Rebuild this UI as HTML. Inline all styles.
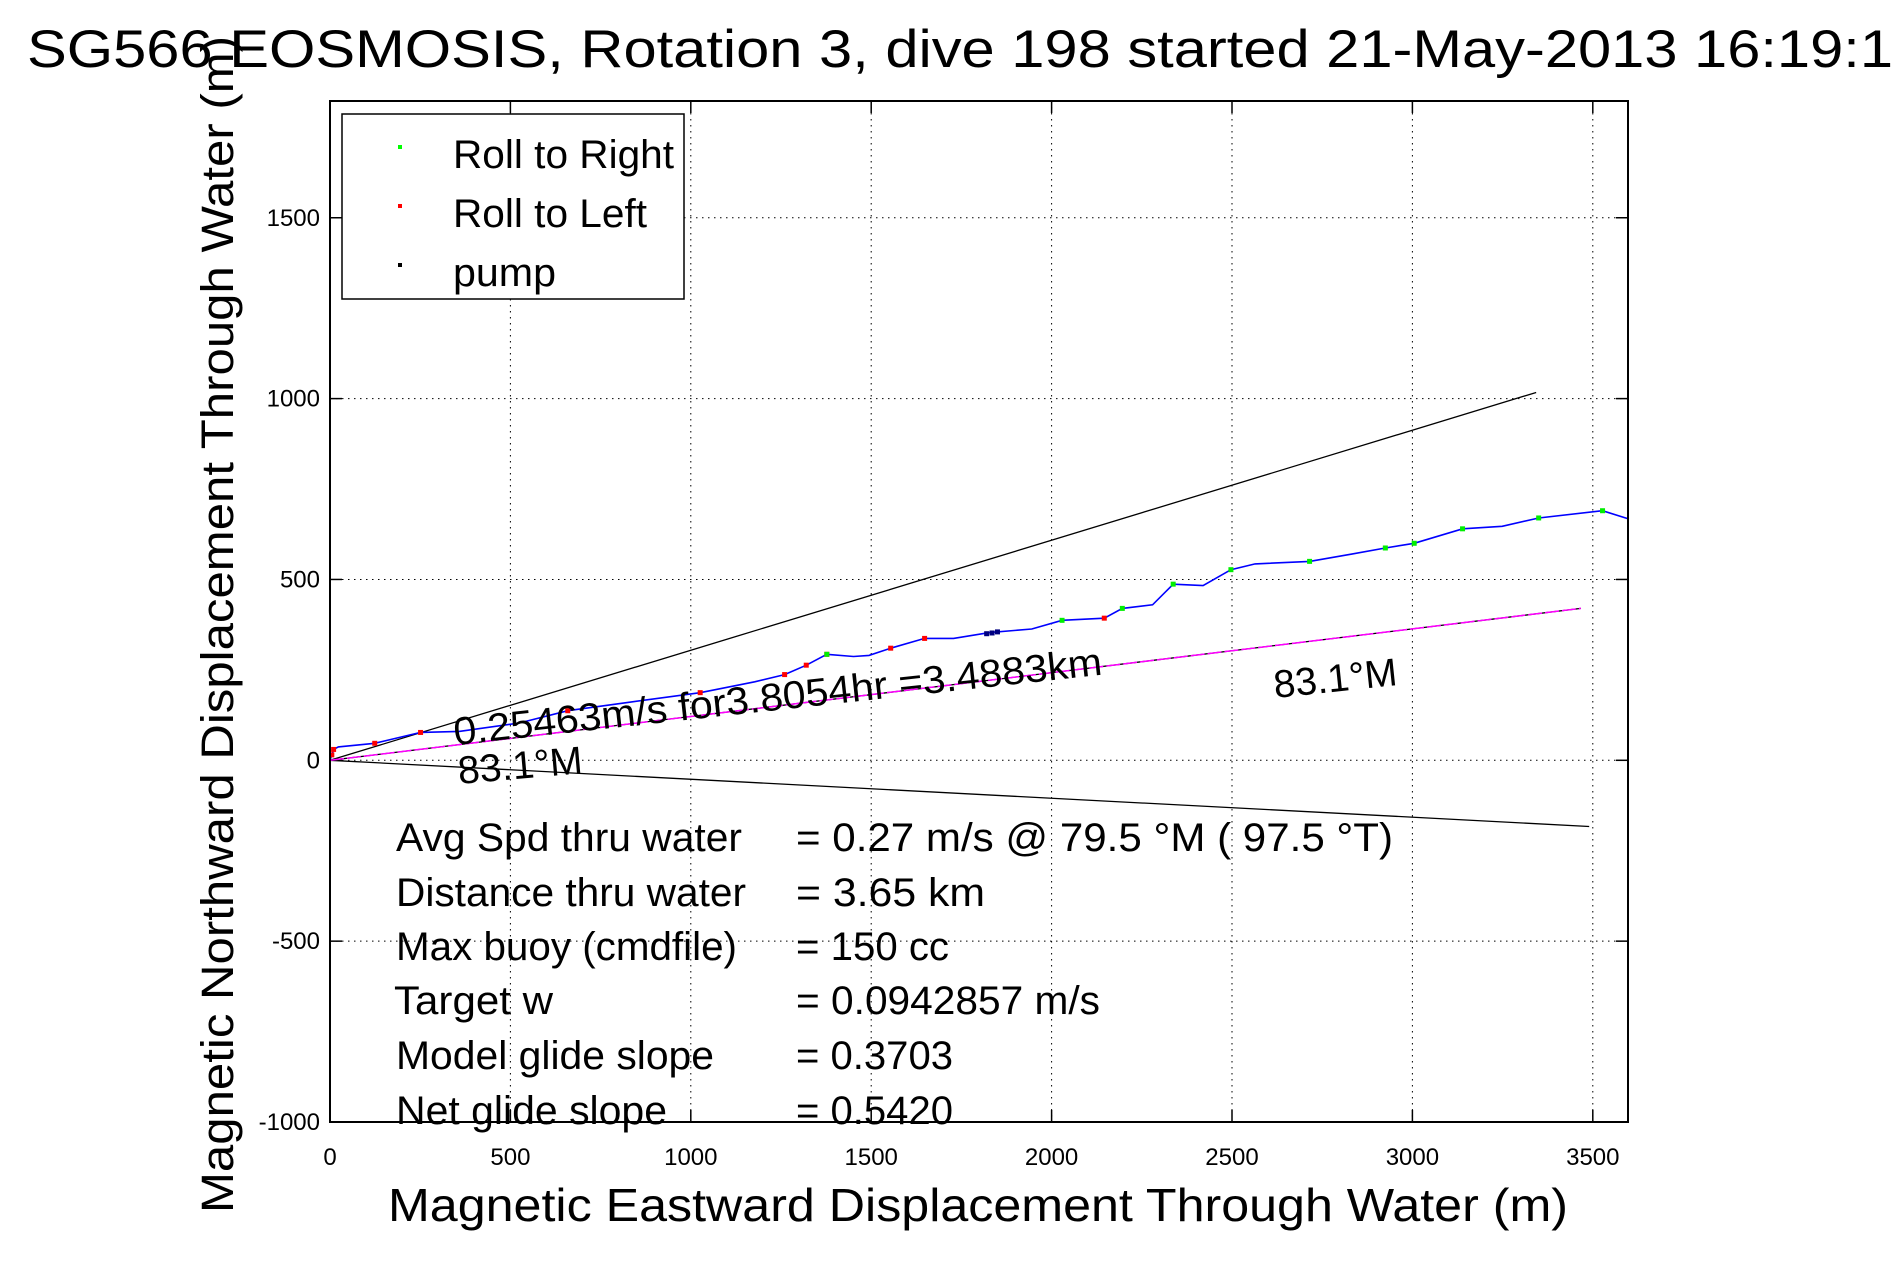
<!DOCTYPE html>
<html><head><meta charset="utf-8"><style>
html,body{margin:0;padding:0;background:#fff;}
svg{display:block;font-family:"Liberation Sans",Arial,sans-serif;}
</style></head><body>
<svg id="chart" width="1891" height="1262" viewBox="0 0 1891 1262">
<rect x="0" y="0" width="1891" height="1262" fill="#fff"/>
<g id="grid"></g>
<g id="ticks"></g>
<g id="series"></g>
<rect x="330" y="101" width="1298" height="1021" fill="none" stroke="#000" stroke-width="2"/>
<text x="27" y="67" font-size="53" textLength="1866" lengthAdjust="spacingAndGlyphs">SG566 EOSMOSIS, Rotation 3, dive 198 started 21-May-2013 16:19:1</text>
<text transform="translate(233,1213) rotate(-90)" x="0" y="0" font-size="45" textLength="1177" lengthAdjust="spacingAndGlyphs">Magnetic Northward Displacement Through Water (m)</text>
<text x="388" y="1221" font-size="46" textLength="1180" lengthAdjust="spacingAndGlyphs">Magnetic Eastward Displacement Through Water (m)</text>
<g>
<rect x="342" y="114" width="342" height="185" fill="#fff" stroke="#000" stroke-width="1.5"/>
<rect x="398" y="145" width="4" height="4" fill="#00ff00"/>
<text x="453" y="168" font-size="40" textLength="221" lengthAdjust="spacingAndGlyphs">Roll to Right</text>
<rect x="398" y="204" width="4" height="4" fill="#ff0000"/>
<text x="453" y="227" font-size="40" textLength="194" lengthAdjust="spacingAndGlyphs">Roll to Left</text>
<rect x="398" y="263" width="4" height="4" fill="#000"/>
<text x="453" y="286" font-size="40" textLength="103" lengthAdjust="spacingAndGlyphs">pump</text>
</g>
<text transform="translate(455,745) rotate(-6.2)" font-size="39" textLength="652" lengthAdjust="spacingAndGlyphs">0.25463m/s for3.8054hr =3.4883km</text>
<text transform="translate(459,784) rotate(-5)" font-size="39" textLength="125" lengthAdjust="spacingAndGlyphs">83.1°M</text>
<text transform="translate(1275,698) rotate(-6)" font-size="39" textLength="124" lengthAdjust="spacingAndGlyphs">83.1°M</text>
<g font-size="40">
<text x="396" y="851" textLength="346" lengthAdjust="spacingAndGlyphs">Avg Spd thru water</text>
<text x="796" y="851" textLength="597" lengthAdjust="spacingAndGlyphs">=  0.27 m/s @  79.5 °M ( 97.5 °T)</text>
<text x="396" y="906" textLength="350" lengthAdjust="spacingAndGlyphs">Distance thru water</text>
<text x="796" y="906" textLength="189" lengthAdjust="spacingAndGlyphs">=  3.65 km</text>
<text x="396" y="960" textLength="341" lengthAdjust="spacingAndGlyphs">Max buoy (cmdfile)</text>
<text x="796" y="960" textLength="153" lengthAdjust="spacingAndGlyphs">= 150 cc</text>
<text x="394" y="1014" textLength="159" lengthAdjust="spacingAndGlyphs">Target w</text>
<text x="796" y="1014" textLength="304" lengthAdjust="spacingAndGlyphs">= 0.0942857 m/s</text>
<text x="396" y="1069" textLength="318" lengthAdjust="spacingAndGlyphs">Model glide slope</text>
<text x="796" y="1069" textLength="157" lengthAdjust="spacingAndGlyphs">= 0.3703</text>
<text x="396" y="1124" textLength="271" lengthAdjust="spacingAndGlyphs">Net glide slope</text>
<text x="796" y="1124" textLength="157" lengthAdjust="spacingAndGlyphs">= 0.5420</text>
</g>
</svg>
<script>
const xTicks = [0, 500, 1000, 1500, 2000, 2500, 3000, 3500];
const yTicks = [-1000, -500, 0, 500, 1000, 1500];
const trackX = [0,10,23,124,251,358,525,659,826,1026,1177,1260,1320,1377,1451,1494,1554,1648,1728,1828,1945,2029,2146,2196,2280,2337,2420,2497,2564,2715,2832,2925,3005,3139,3249,3350,3527,3600];
const trackY = [0,30,37,47,77,80,103,137,160,187,217,237,263,293,287,290,310,337,337,353,363,387,393,420,430,487,483,527,543,550,570,587,600,640,647,670,690,667];
const rightX = [1377,2029,2196,2337,2497,2715,2925,3005,3139,3350,3527];
const rightY = [293,387,420,487,527,550,587,600,640,670,690];
const leftX = [5,10,124,251,659,1026,1260,1320,1377,1554,1648,2146];
const leftY = [15,30,47,77,137,187,237,263,293,310,337,393];
const pumpX = [1820,1835,1850];
const pumpY = [350,352,355];
const envUpperEnd = [3343, 1017];
const envLowerEnd = [3490, -183];
const headingEnd = [3467, 420];

const NS = 'http://www.w3.org/2000/svg';
const X0 = 330, XS = 0.3608, Y0 = 760.3, YS = 0.3617;
const LEFT = 330, RIGHT = 1628, TOP = 101, BOTTOM = 1122;
function sx(v){ return X0 + v * XS; }
function sy(v){ return Y0 - v * YS; }
function mk(tag, attrs, parent){ const e = document.createElementNS(NS, tag); for (const k in attrs) e.setAttribute(k, attrs[k]); parent.appendChild(e); return e; }

const grid = document.getElementById('grid');
const ticks = document.getElementById('ticks');
const series = document.getElementById('series');

xTicks.forEach(v => {
  const x = sx(v);
  const g = mk('line', {x1:x, y1:TOP, x2:x, y2:BOTTOM, stroke:'#000', 'stroke-width':1, 'stroke-dasharray':'1.5,4.5'}, grid);
  
  
  const t1 = mk('line', {x1:x, y1:BOTTOM, x2:x, y2:BOTTOM-12, stroke:'#000', 'stroke-width':1.5}, ticks);
  
  
  const t2 = mk('line', {x1:x, y1:TOP, x2:x, y2:TOP+12, stroke:'#000', 'stroke-width':1.5}, ticks);
  
  
  const l = mk('text', {x:x, y:1165, 'font-size':24, 'text-anchor':'middle'}, ticks);
  l.textContent = String(v);
  
  
});
yTicks.forEach(v => {
  const y = sy(v);
  const g = mk('line', {x1:LEFT, y1:y, x2:RIGHT, y2:y, stroke:'#000', 'stroke-width':1, 'stroke-dasharray':'1.5,4.5'}, grid);
  
  
  const t1 = mk('line', {x1:LEFT, y1:y, x2:LEFT+12, y2:y, stroke:'#000', 'stroke-width':1.5}, ticks);
  
  
  const t2 = mk('line', {x1:RIGHT, y1:y, x2:RIGHT-12, y2:y, stroke:'#000', 'stroke-width':1.5}, ticks);
  
  
  const l = mk('text', {x:320, y:y+8, 'font-size':24, 'text-anchor':'end'}, ticks);
  l.textContent = String(v);
  
  
});

const eu = mk('line', {x1:sx(0), y1:sy(0), x2:sx(envUpperEnd[0]), y2:sy(envUpperEnd[1]), stroke:'#000', 'stroke-width':1.3}, series);


const el = mk('line', {x1:sx(0), y1:sy(0), x2:sx(envLowerEnd[0]), y2:sy(envLowerEnd[1]), stroke:'#000', 'stroke-width':1.3}, series);


const hb = mk('line', {x1:sx(0), y1:sy(0), x2:sx(headingEnd[0]), y2:sy(headingEnd[1]), stroke:'#000', 'stroke-width':1.3}, series);


const hl = mk('line', {x1:sx(0), y1:sy(0), x2:sx(headingEnd[0]), y2:sy(headingEnd[1]), stroke:'#ff00ff', 'stroke-width':1.5, 'stroke-dasharray':'14,3'}, series);



const pts = trackX.map((v,i) => sx(v).toFixed(1) + ',' + sy(trackY[i]).toFixed(1)).join(' ');
const track = mk('polyline', {points:pts, fill:'none', stroke:'#0000ff', 'stroke-width':1.6}, series);



function dots(xs, ys, color, name){
  xs.forEach((v,i) => {
    const d = mk('rect', {x:sx(v)-2.5, y:sy(ys[i])-2.5, width:5, height:5, fill:color}, series);
    
    
  });
}
dots(leftX, leftY, '#ff0000', 'roll-left-point');
dots(rightX, rightY, '#00ee00', 'roll-right-point');
dots(pumpX, pumpY, '#000080', 'pump-point');
</script>
</body></html>
